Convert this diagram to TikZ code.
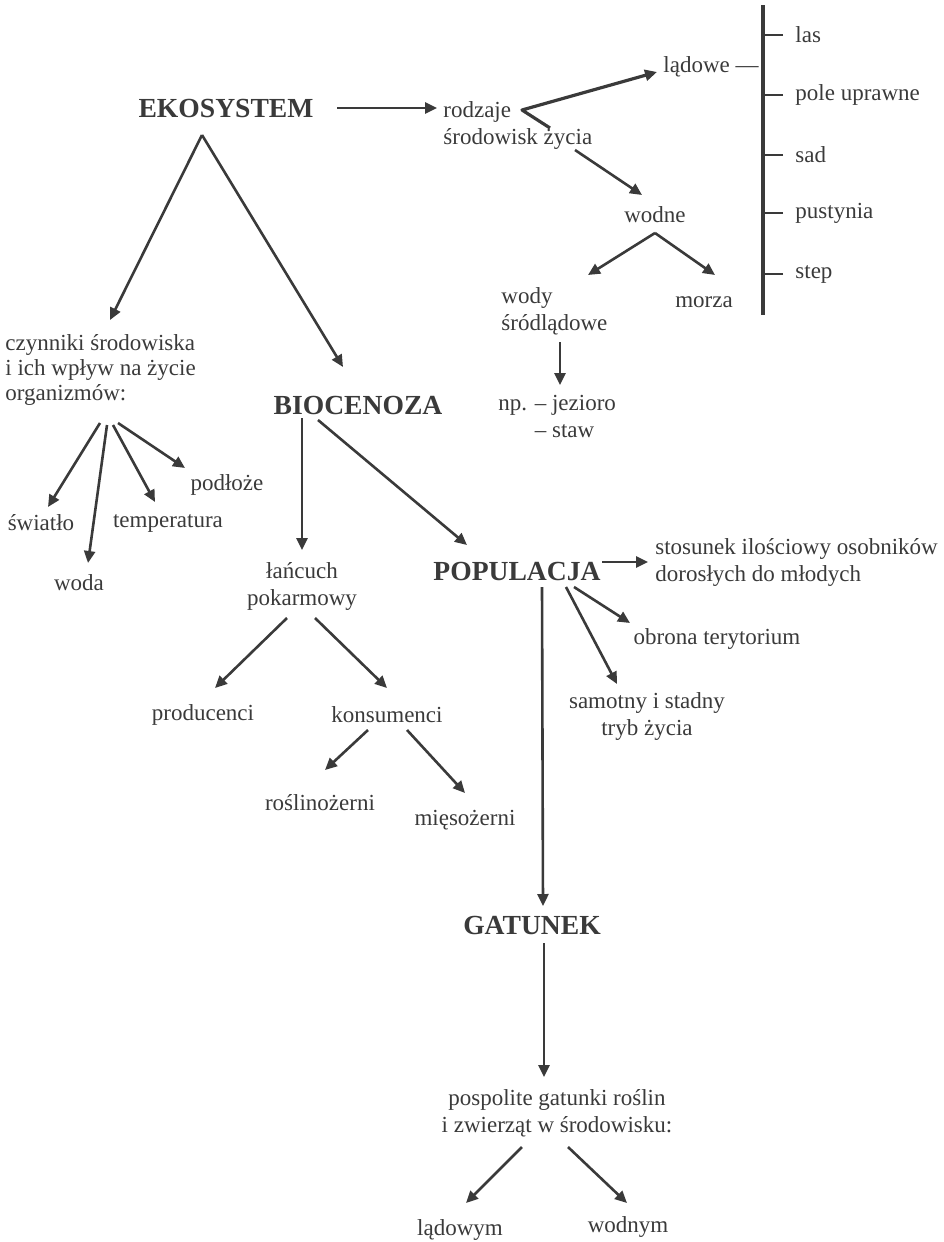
\documentclass[tikz,border=0pt]{standalone}
\usepackage{fontspec}
\setmainfont{Liberation Serif}
\usetikzlibrary{arrows.meta,calc}
\definecolor{ink}{HTML}{3A3A3A}
\tikzset{
  txt/.style={inner sep=1pt, text=ink, font=\fontsize{11.5}{13.5}\selectfont},
  head/.style={inner sep=1pt, text=ink, font=\bfseries\fontsize{13.8}{16}\selectfont},
  arr/.style={draw=ink, line width=1.3pt, -{Triangle[length=6pt,width=5.5pt]}},
  ln/.style={draw=ink, line width=1.1pt},
}

\begin{document}
\begin{tikzpicture}[x=0.5pt,y=-0.5pt, line join=round]
  \useasboundingbox (0,0) rectangle (943,1242);
  % headings
  \node[head] (eko) at (226,108) {EKOSYSTEM};
  \node[head] (bio) at (358,405) {BIOCENOZA};
  \node[head] (pop) at (517,571) {POPULACJA};
  \node[head] (gat) at (532,925) {GATUNEK};

  % environments
  \node[txt, anchor=west, align=left] (rodz) at (441,126) {rodzaje\\środowisk życia};
  \node[txt, anchor=west] (lad) at (661,67) {lądowe —};
  \node[txt] (wodne) at (655,215) {wodne};
  \node[txt] (morza) at (704,302) {morza};
  \node[txt, anchor=west, align=left] (wody) at (499,311) {wody\\śródlądowe};
  \node[txt, anchor=west, align=left] (np) at (496,416) {np. – jezioro\\\hphantom{np. }– staw};
  \coordinate (barT) at (763,5);
  \coordinate (barB) at (763,315);
  \draw[draw=ink, line width=1.6pt] (barT) -- (barB);                  % land bar
  \foreach \y/\name/\txt in {35/las/las, 95/pole/pole uprawne, 155/sad/sad,
                             213/pust/pustynia, 274/stp/step} {
    \node[txt, anchor=west] (\name) at (793,\y) {\txt};
    \draw[ln] ($(\name.west)+(-10,0)$) -- ($(\name.west)+(-30,0)$);   % tick
  }

  % factors
  \node[txt, anchor=west, align=left, font=\fontsize{11.5}{12.5}\selectfont] (czyn) at (3,370)
    {czynniki środowiska\\i ich wpływ na życie\\organizmów:};
  \node[txt] (swiat) at (41,523) {światło};
  \node[txt] (woda) at (79,583) {woda};
  \node[txt] (temp) at (168,523) {temperatura};
  \node[txt] (podl) at (227,485) {podłoże};

  % food chain
  \node[txt, align=center] (lanc) at (302,586) {łańcuch\\pokarmowy};
  \node[txt] (prod) at (203,715) {producenci};
  \node[txt] (kons) at (387,715) {konsumenci};
  \node[txt] (rosl) at (320,803) {roślinożerni};
  \node[txt] (mies) at (465,820) {mięsożerni};

  % population
  \node[txt, anchor=west, align=left] (stos) at (653,562) {stosunek ilościowy osobników\\dorosłych do młodych};
  \node[txt] (obr) at (717,639) {obrona terytorium};
  \node[txt, align=center] (sam) at (647,716) {samotny i stadny\\tryb życia};

  % species
  \node[txt, align=center] (posp) at (557,1113) {pospolite gatunki roślin\\i zwierząt w środowisku:};
  \node[txt] (ladw) at (460,1230) {lądowym};
  \node[txt] (wodn) at (628,1227) {wodnym};

  % connectors from EKOSYSTEM
  \coordinate (ekoV) at ($(eko)+(-24,27)$);
  \draw[arr] ($(eko)+(111,0)$) -- ($(rodz.west)+(-4,-18)$);
  \draw[arr] (ekoV) -- ($(czyn.west)+(107,-50)$);
  \draw[arr] (ekoV) -- ($(bio)+(-15,-38)$);

  % environments
  \coordinate (rodzV) at ($(rodz.west)+(81,-16)$);
  \draw[arr, line width=1.6pt] ($(rodz.west)+(109,2)$) -- (rodzV) -- ($(lad.west)+(-4,5)$);
  \draw[arr] ($(rodz.west)+(134,24)$) -- ($(wodne)+(-13,-20)$);
  \coordinate (wodV) at ($(wodne)+(0,18)$);
  \draw[arr] (wodV) -- ($(wody.west)+(89,-36)$);
  \draw[arr] (wodV) -- ($(morza)+(11,-27)$);
  \draw[arr] ($(wody.west)+(61,31)$) -- ($(np.west)+(64,-31)$);

  % factors
  \draw[arr] ($(czyn.west)+(97,53)$)  -- ($(swiat)+(7,-16)$);
  \draw[arr] ($(czyn.west)+(104,55)$) -- ($(woda)+(9,-20)$);
  \draw[arr] ($(czyn.west)+(110,55)$) -- ($(temp)+(-13,-21)$);
  \draw[arr] ($(czyn.west)+(115,53)$) -- ($(podl)+(-42,-17)$);

  % BIOCENOZA
  \draw[arr] ($(bio)+(-56,13)$) -- ($(lanc)+(0,-36)$);
  \draw[arr] ($(bio)+(-40,15)$) -- ($(pop)+(-50,-26)$);
  \draw[arr] ($(lanc)+(-15,32)$) -- ($(prod)+(12,-27)$);
  \draw[arr] ($(lanc)+(13,32)$)  -- ($(kons)+(0,-27)$);
  \draw[arr] ($(kons)+(-19,15)$) -- ($(rosl)+(5,-33)$);
  \draw[arr] ($(kons)+(20,15)$)  -- ($(mies)+(0,-27)$);

  % POPULACJA
  \draw[arr] ($(pop)+(85,-9)$) -- ($(stos.west)+(-5,0)$);
  \draw[arr] ($(pop)+(57,16)$) -- ($(obr)+(-87,-16)$);
  \draw[arr] ($(pop)+(49,16)$) -- ($(sam)+(-30,-32)$);
  \draw[arr] ($(pop)+(25,16)$) -- ($(gat)+(11,-19)$);

  % GATUNEK
  \draw[arr] ($(gat)+(12,18)$) -- ($(posp)+(-13,-36)$);
  \draw[arr] ($(posp)+(-35,34)$) -- ($(ladw)+(6,-27)$);
  \draw[arr] ($(posp)+(11,34)$)  -- ($(wodn)+(-1,-24)$);
\end{tikzpicture}
\end{document}
